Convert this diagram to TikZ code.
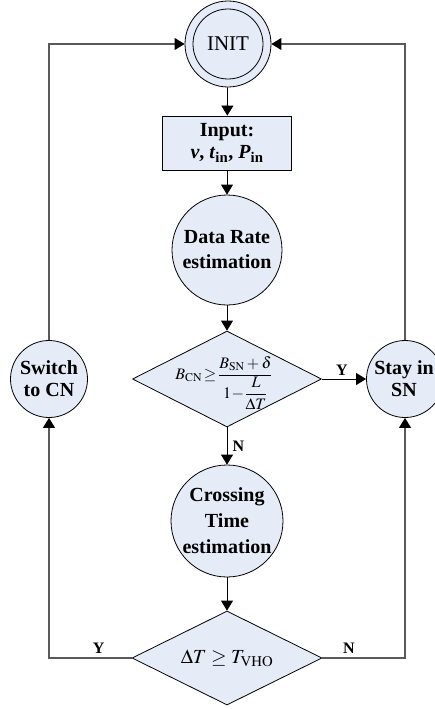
\documentclass[tikz,border=0pt]{standalone}
\usepackage{mathptmx}
\usepackage{fontspec}
\setmainfont{Liberation Serif}
\usetikzlibrary{arrows.meta,shapes.geometric}
\definecolor{boxfill}{RGB}{230,236,247}
\begin{document}
\begin{tikzpicture}[x=1pt,y=1pt,
  shapeline/.style={draw=black,line width=0.8pt,fill=boxfill},
  circ/.style={shapeline,circle,inner sep=0pt},
  dec/.style={shapeline,diamond,inner sep=0pt},
  txt/.style={font=\fontsize{20}{26}\selectfont\bfseries,align=center,inner sep=0pt},
  lab/.style={font=\fontsize{16}{18}\selectfont\bfseries},
  arr/.style={-{Triangle[length=10pt,width=12pt]},line width=0.8pt,draw=black},
  backline/.style={-{Triangle[length=10pt,width=12pt,color=black]},line width=1.1pt,draw=black!65},
]
\useasboundingbox (0,0) rectangle (435,-709);

% nodes
\node[circ,minimum size=86pt] (init) at (228,-44) {};
\draw[line width=0.8pt] (init.center) circle (35pt);
\node[font=\fontsize{21}{24}\selectfont,inner sep=0pt] (initt) at (init) {INIT};

\node[shapeline,rectangle,minimum width=129pt,minimum height=54pt,inner sep=0pt,
      font=\fontsize{20}{22}\selectfont\bfseries,align=center] (input) at (227,-143)
      {Input:\\ \textit{v}, \textit{t}\textsubscript{in}, \textit{P}\textsubscript{in}};

\node[circ,minimum size=110pt] (rate) at (227,-250) {};
\node[txt,font=\fontsize{20}{25}\selectfont\bfseries] (ratet) at (rate) {Data Rate\\estimation};

\node[dec,minimum width=189pt,minimum height=96pt] (d1) at (227,-379) {};
\node[inner sep=0pt,font=\fontsize{16}{19}\selectfont] (d1t) at (224,-383)
  {$\displaystyle B_{\mathrm{CN}}\,{\geq}\, \frac{B_{\mathrm{SN}}+\delta}{1\!-\!{\displaystyle\frac{L}{\Delta T}}}$};

\node[circ,minimum size=77pt] (stay) at (405,-379) {};
\node[txt,font=\fontsize{20}{22}\selectfont\bfseries] (stayt) at (404,-379) {Stay in\\SN};

\node[circ,minimum size=77pt] (switch) at (49,-379) {};
\node[txt,font=\fontsize{20}{22}\selectfont\bfseries] (switcht) at (switch) {Switch\\to CN};

\node[circ,minimum size=112pt] (cross) at (227,-521) {};
\node[txt] (crosst) at (cross) {Crossing\\Time\\estimation};

\node[dec,minimum width=190pt,minimum height=94pt] (d2) at (227,-658) {};
\node[inner sep=0pt,font=\fontsize{20}{24}\selectfont] (d2t) at (227,-658)
  {$\Delta T \geq T_{\mathrm{VHO}}$};

% connectors
\draw[arr] (init) -- (input);
\draw[arr] (input) -- (rate);
\draw[arr] (rate) -- (d1);
\draw[arr] (d1.east) -- node[lab,above,pos=0.45] {Y} (stay.west);
\draw[arr] (d1.south) -- node[lab,right,xshift=2pt] {N} (cross.north);
\draw[arr] (cross) -- (d2);
\draw[backline] (d2.west) -| node[lab,above,pos=0.2,yshift=1pt] {Y} (switch.south);
\draw[backline] (d2.east) -| node[lab,above,pos=0.16,yshift=1pt] {N} (stay.south);
\draw[backline] (switch.north) |- (init.west);
\draw[backline] (stay.north) |- (init.east);
\end{tikzpicture}
\end{document}
